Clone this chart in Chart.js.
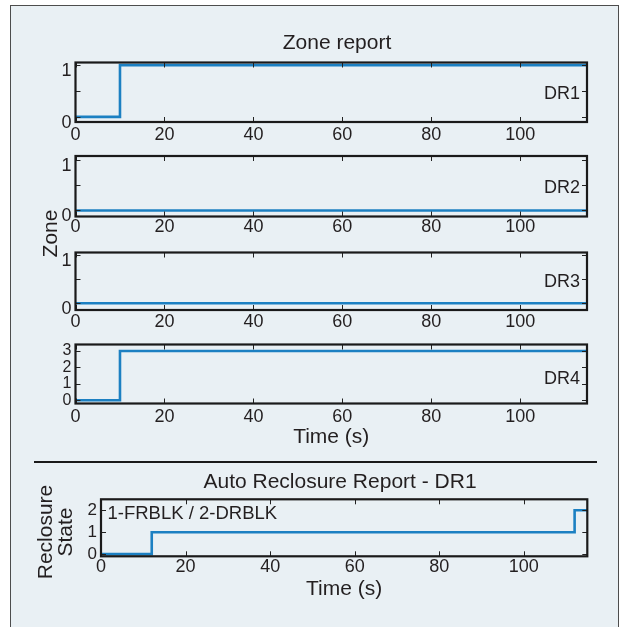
<!DOCTYPE html>
<html>
<head>
<meta charset="utf-8">
<script src="https://cdn.jsdelivr.net/npm/chart.js@4/dist/chart.umd.min.js"></script>
<style>
  html, body { margin: 0; padding: 0; background: #ffffff; width: 621px; height: 627px; overflow: hidden; }
  #frame { position: absolute; left: 10px; top: 5px; width: 607px; height: 650px; background: #e9f0f4; border: 1.5px solid #4d4d4d; }
  canvas { position: absolute; left: 0; top: 0; }
</style>
</head>
<body>
<div id="frame"></div>
<canvas id="c1" width="621" height="627"></canvas>
<canvas id="c2" width="621" height="627"></canvas>
<canvas id="c3" width="621" height="627"></canvas>
<canvas id="c4" width="621" height="627"></canvas>
<canvas id="c5" width="621" height="627"></canvas>
<script>
// ---------- data ----------
const timeTicks = [0, 20, 40, 60, 80, 100];
const zoneTicks = [0, 0.5, 1];
const dr4Ticks = [0, 1, 2, 3];
const reclosureTicks = [0, 1, 2];

const dr1Time = [0, 10, 115];
const dr1Zone = [0, 1, 1];
const dr2Time = [0, 115];
const dr2Zone = [0, 0];
const dr3Time = [0, 115];
const dr3Zone = [0, 0];
const dr4Time = [0, 10, 115];
const dr4Zone = [0, 3, 3];
const arTime = [0, 12, 112, 115];
const arState = [0, 1, 2, 2];

const zoneTitle = 'Zone report';
const zoneAxisTitle = 'Zone';
const timeTitle = 'Time (s)';
const arTitle = 'Auto Reclosure Report - DR1';
const arAxisTitle = ['Reclosure', 'State'];
const arNote = '1-FRBLK / 2-DRBLK';

// ---------- style ----------
const W = 621, H = 627;
const FONT = '"Liberation Sans", Arial, Helvetica, sans-serif';
const TXT = '#231f20';
const LINE = '#1c80c2';

function decor(texts, extra) {
  return {
    id: 'decor',
    afterDatasetsDraw(chart) {
      const { ctx, chartArea: a, scales: { x, y } } = chart;
      ctx.save();
      ctx.strokeStyle = '#222';
      ctx.lineWidth = 1;
      const tl = 5;
      ctx.beginPath();
      x.ticks.forEach(t => {
        const px = Math.round(x.getPixelForValue(t.value)) + 0.5;
        ctx.moveTo(px, a.bottom); ctx.lineTo(px, a.bottom - tl);
        ctx.moveTo(px, a.top); ctx.lineTo(px, a.top + tl);
      });
      y.ticks.forEach(t => {
        const py = Math.round(y.getPixelForValue(t.value)) + 0.5;
        ctx.moveTo(a.left, py); ctx.lineTo(a.left + tl, py);
        ctx.moveTo(a.right, py); ctx.lineTo(a.right - tl, py);
      });
      ctx.stroke();
      ctx.lineWidth = 2.2;
      ctx.strokeStyle = '#1a1a1a';
      ctx.strokeRect(a.left, a.top, a.right - a.left, a.bottom - a.top);
      ctx.fillStyle = TXT;
      texts.forEach(t => {
        const tx = typeof t.x === 'function' ? t.x(chart) : t.x;
        const ty = typeof t.y === 'function' ? t.y(chart) : t.y;
        ctx.save();
        ctx.font = (t.size || 21) + 'px ' + FONT;
        ctx.textAlign = t.align || 'center';
        ctx.textBaseline = t.baseline || 'middle';
        ctx.translate(tx, ty);
        if (t.rotate) ctx.rotate(t.rotate * Math.PI / 180);
        ctx.fillText(t.text, 0, 0);
        ctx.restore();
      });
      if (extra) extra(ctx, chart);
      ctx.restore();
    }
  };
}

function makePanel(id, cfg) {
  const [L, T, R, B] = cfg.rect;
  return new Chart(document.getElementById(id), {
    type: 'line',
    data: {
      datasets: [{
        data: cfg.time.map((t, i) => ({ x: t, y: cfg.vals[i] })),
        stepped: true,
        borderColor: LINE,
        borderWidth: 2.6,
        pointRadius: 0,
        fill: false
      }]
    },
    options: {
      responsive: false,
      animation: false,
      events: [],
      layout: { padding: { left: L - cfg.yW, right: W - R, top: T, bottom: H - B - cfg.xH } },
      plugins: { legend: { display: false }, tooltip: { enabled: false }, title: { display: false } },
      scales: {
        x: {
          type: 'linear', min: 0, max: 115,
          grid: { display: false, drawTicks: false },
          border: { display: false },
          afterBuildTicks: s => { s.ticks = timeTicks.map(v => ({ value: v })); },
          afterFit: s => { s.height = cfg.xH; },
          ticks: { autoSkip: false, maxRotation: 0, padding: cfg.xPad, font: { family: FONT, size: 18 }, color: TXT },
          title: cfg.xTitle
            ? { display: true, text: cfg.xTitle, font: { family: FONT, size: 21 }, color: TXT, padding: 0 }
            : { display: false }
        },
        y: {
          type: 'linear', min: cfg.yMin, max: cfg.yMax,
          grid: { display: false, drawTicks: false },
          border: { display: false },
          afterBuildTicks: s => { s.ticks = cfg.yTicks.map(v => ({ value: v })); },
          afterFit: s => { s.width = cfg.yW; },
          ticks: {
            autoSkip: false, padding: 4, labelOffset: cfg.yOff || 0,
            font: { family: FONT, size: cfg.yFont }, color: TXT,
            callback: v => Number.isInteger(v) ? String(v) : ''
          },
          title: { display: false }
        }
      }
    },
    plugins: [decor(cfg.texts || [], cfg.extra)]
  });
}

const drLabel = (txt, v) => ({
  text: txt, size: 18, align: 'right',
  x: c => c.chartArea.right - 7,
  y: c => c.scales.y.getPixelForValue(v) + 3
});

makePanel('c1', {
  rect: [75.5, 62.5, 587, 122], yW: 40, xH: 30, xPad: 2,
  yMin: -0.1, yMax: 1.05, yTicks: zoneTicks, yFont: 18, yOff: 6,
  time: dr1Time, vals: dr1Zone,
  texts: [{ text: zoneTitle, x: 337, y: 43 }, drLabel('DR1', 0.5)]
});

makePanel('c2', {
  rect: [75.5, 156, 587, 216.5], yW: 40, xH: 30, xPad: 0,
  yMin: -0.12, yMax: 1.08, yTicks: zoneTicks, yFont: 18, yOff: 6,
  time: dr2Time, vals: dr2Zone,
  texts: [drLabel('DR2', 0.5), { text: zoneAxisTitle, x: 57, y: 233.5, rotate: -90, baseline: 'alphabetic' }]
});

makePanel('c3', {
  rect: [75.5, 252.5, 587, 310], yW: 40, xH: 30, xPad: 1,
  yMin: -0.14, yMax: 1.045, yTicks: zoneTicks, yFont: 18, yOff: 6,
  time: dr3Time, vals: dr3Zone,
  texts: [drLabel('DR3', 0.5)]
});

makePanel('c4', {
  rect: [75.5, 344.5, 587, 403.5], yW: 40, xH: 46.5, xPad: 3,
  yMin: -0.2, yMax: 3.4, yTicks: dr4Ticks, yFont: 16, yOff: 0,
  time: dr4Time, vals: dr4Zone, xTitle: timeTitle,
  texts: [drLabel('DR4', 1.5)]
});

makePanel('c5', {
  rect: [101, 499.3, 587.3, 556.3], yW: 81, xH: 46, xPad: 0,
  yMin: -0.1, yMax: 2.5, yTicks: reclosureTicks, yFont: 17, yOff: 0,
  time: arTime, vals: arState, xTitle: timeTitle,
  texts: [
    { text: arTitle, x: 340, y: 482 },
    { text: arAxisTitle[0], x: 51.5, y: 532, rotate: -90, baseline: 'alphabetic' },
    { text: arAxisTitle[1], x: 72, y: 532, rotate: -90, baseline: 'alphabetic' },
    { text: arNote, x: c => c.chartArea.left + 6.5, y: 513.5, align: 'left', size: 18.5 }
  ],
  extra: (ctx) => {
    ctx.strokeStyle = '#1a1a1a';
    ctx.lineWidth = 2;
    ctx.beginPath();
    ctx.moveTo(34, 462);
    ctx.lineTo(597, 462);
    ctx.stroke();
  }
});
</script>
</body>
</html>
